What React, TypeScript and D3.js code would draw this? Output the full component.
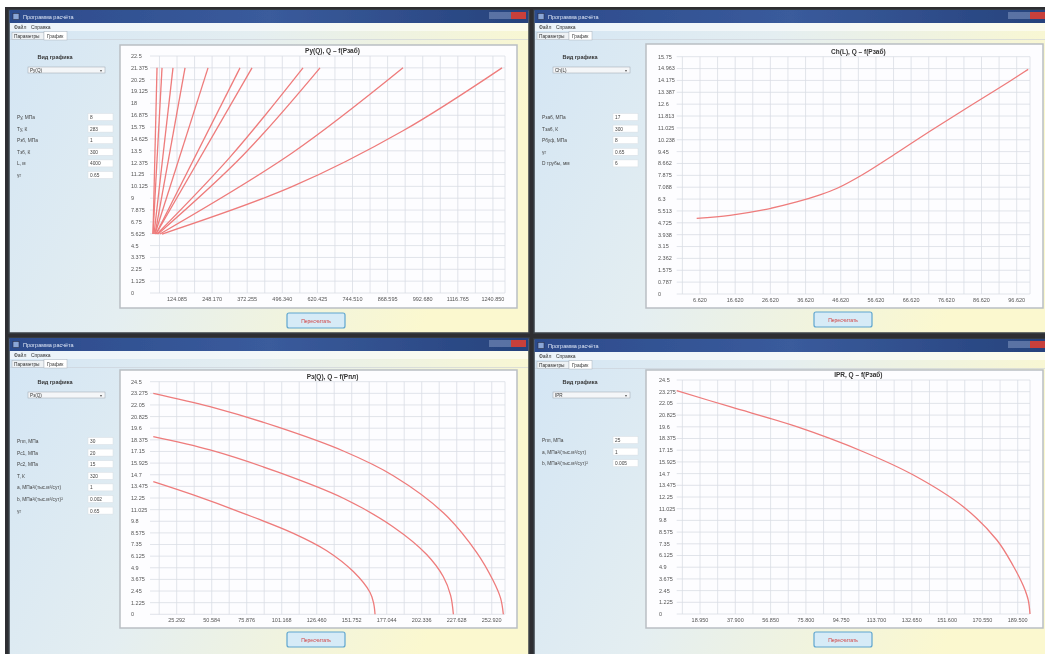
import React from "react";
import * as d3 from "d3";

const W = 1045;
const H = 654;

// ---------- data ----------
// top-left: fan of lines
const tlTitle = "Pу(Q), Q – f(Pзаб)";
const tlXDomain: [number, number] = [28.6, 1283.6];
const tlXTicks = [124.085, 248.17, 372.255, 496.34, 620.425, 744.51, 868.595, 992.68, 1116.765, 1240.85];
const tlYTicks = [0, 1.125, 2.25, 3.375, 4.5, 5.625, 6.75, 7.875, 9, 10.125, 11.25, 12.375, 13.5, 14.625, 15.75, 16.875, 18, 19.125, 20.25, 21.375, 22.5];
const tlLines: [number, number][][] = [
    [[39.2, 5.6], [53.4, 21.375]],
    [[39.2, 5.6], [71.1, 21.375]],
    [[42.8, 5.6], [109.9, 21.375]],
    [[46.3, 5.6], [152.4, 21.375]],
    [[46.3, 5.6], [233.7, 21.375]],
    [[49.8, 5.6], [346.8, 21.375]],
    [[49.8, 5.6], [389.2, 21.375]],
    [[53.4, 5.6], [311.5, 12.9], [569.5, 21.375]],
    [[56.9, 5.6], [358.5, 13.1], [629.6, 21.375]],
    [[64.0, 5.6], [529.6, 13.26], [923.0, 21.375]],
    [[71.1, 5.6], [530.6, 10.09], [923.0, 15.4], [1273.0, 21.375]],
];

// top-right: single rising curve
const trTitle = "Ch(L), Q – f(Pзаб)";
const trXDomain: [number, number] = [0, 100.4];
const trXTicks = [6.62, 16.62, 26.62, 36.62, 46.62, 56.62, 66.62, 76.62, 86.62, 96.62];
const trYTicks = [0, 0.7875, 1.575, 2.3625, 3.15, 3.9375, 4.725, 5.5125, 6.3, 7.0875, 7.875, 8.6625, 9.45, 10.2375, 11.025, 11.8125, 12.6, 13.3875, 14.175, 14.9625, 15.75];
const trCurve: [number, number][] = [
    [5.68, 5.02], [15.14, 5.22], [24.6, 5.58], [34.09, 6.11], [40.71, 6.58], [45.45, 7.0],
    [53.01, 7.95], [62.5, 9.36], [71.95, 10.8], [81.42, 12.2], [90.91, 13.57], [99.89, 14.91],
];

// bottom-left: three falling curves
const blTitle = "Pз(Q), Q – f(Pпл)";
const blXDomain: [number, number] = [6.0, 262.5];
const blXTicks = [25.292, 50.584, 75.876, 101.168, 126.46, 151.752, 177.044, 202.336, 227.628, 252.92];
const blYTicks = [0, 1.225, 2.45, 3.675, 4.9, 6.125, 7.35, 8.575, 9.8, 11.025, 12.25, 13.475, 14.7, 15.925, 17.15, 18.375, 19.6, 20.825, 22.05, 23.275, 24.5];
const blCurves: [number, number][][] = [
    [[8.38, 23.28], [49.36, 21.87], [97.56, 19.76], [145.7, 17.2], [181.8, 14.6], [217.95, 10.7], [242.1, 6.5], [254.1, 3.5], [259.3, 1.7], [261.3, 0]],
    [[8.38, 18.71], [49.36, 17.31], [97.56, 15.02], [145.7, 12.22], [181.8, 9.2], [205.9, 6.3], [217.95, 3.96], [223.2, 2.0], [225.2, 0]],
    [[8.38, 13.97], [37.29, 12.57], [73.42, 10.64], [109.6, 8.53], [133.7, 6.7], [152.9, 4.5], [165.0, 2.3], [167.6, 1.15], [168.6, 0]],
];

// bottom-right: IPR curve
const brTitle = "IPR, Q – f(Pзаб)";
const brXDomain: [number, number] = [6.44, 196.1];
const brXTicks = [18.95, 37.9, 56.85, 75.8, 94.75, 113.7, 132.65, 151.6, 170.55, 189.5];
const brYTicks = blYTicks;
const brCurve: [number, number][] = [
    [6.44, 23.38], [35.05, 21.7], [70.86, 19.61], [106.6, 16.99], [133.5, 14.55],
    [160.3, 11.23], [178.3, 7.75], [187.2, 5.0], [192.5, 2.95], [195.1, 1.5], [196.1, 0],
];

const tlParams: [string, string][] = [["Pу, МПа", "8"], ["Tу, К", "283"], ["Pзб, МПа", "1"], ["Tзб, К", "300"], ["L, м", "4000"], ["γг", "0.65"]];
const trParams: [string, string][] = [["Pзаб, МПа", "17"], ["Tзаб, К", "300"], ["Pбуф, МПа", "8"], ["γг", "0.65"], ["D трубы, мм", "6"]];
const blParams: [string, string][] = [["Pпл, МПа", "30"], ["Pс1, МПа", "20"], ["Pс2, МПа", "15"], ["T, К", "320"], ["a, МПа²/(тыс.м³/сут)", "1"], ["b, МПа²/(тыс.м³/сут)²", "0.002"], ["γг", "0.65"]];
const brParams: [string, string][] = [["Pпл, МПа", "25"], ["a, МПа²/(тыс.м³/сут)", "1"], ["b, МПа²/(тыс.м³/сут)²", "0.005"]];

const FONT = "'Liberation Sans', Arial, sans-serif";
const LINE = "#ee7b7b";

type ChartProps = {
    panel: [number, number, number, number];
    plot: [number, number, number, number];
    labelX: number;
    title: string;
    xDomain: [number, number];
    xTicks: number[];
    yTicks: number[];
    series: [number, number][][];
};

function Chart({ panel, plot, labelX, title, xDomain, xTicks, yTicks, series }: ChartProps)
{
    const [px0, py0, px1, py1] = plot;
    const x = d3.scaleLinear().domain(xDomain).range([px0, px1]);
    const y = d3.scaleLinear().domain([0, yTicks[yTicks.length - 1]]).range([py1, py0]);

    // vertical grid every half tick step
    const half = (xTicks[1] - xTicks[0]) / 2;
    let start = xTicks[0];
    while (start - half >= xDomain[0]) start -= half;
    const vGrid: number[] = [];
    for (let v = start; v <= xDomain[1]; v += half) vGrid.push(v);

    const line = d3.line<[number, number]>()
        .x((d) => x(d[0]))
        .y((d) => y(d[1]))
        .curve(d3.curveCatmullRom.alpha(0.5));

    return (
        <g>
            <rect x={panel[0]} y={panel[1]} width={panel[2] - panel[0]} height={panel[3] - panel[1]}
                fill="#fdfdff" stroke="#b9bec4" strokeWidth={1.5} />
            {yTicks.map((t, i) => (
                <line key={"h" + i} x1={px0} x2={px1} y1={y(t)} y2={y(t)} stroke="#d9dde5" strokeWidth={0.8} />
            ))}
            {vGrid.map((v, i) => (
                <line key={"v" + i} x1={x(v)} x2={x(v)} y1={py0} y2={py1} stroke="#d9dde5" strokeWidth={0.8} />
            ))}
            <line x1={px1} x2={px1} y1={py0} y2={py1} stroke="#d9dde5" strokeWidth={0.8} />
            {series.map((s, i) => (
                <path key={"s" + i} d={line(s) || ""} fill="none" stroke={LINE} strokeWidth={1.3} />
            ))}
            {yTicks.map((t, i) => (
                <text key={"yl" + i} x={labelX} y={y(t)} dy="0.35em" fontSize={5.5} fill="#555" fontFamily={FONT}>
                    {String(+t.toFixed(3))}
                </text>
            ))}
            {xTicks.map((t, i) => (
                <text key={"xl" + i} x={x(t)} y={py1 + 8} textAnchor="middle" fontSize={5.5} fill="#555" fontFamily={FONT}>
                    {t.toFixed(3)}
                </text>
            ))}
            <text x={(px0 + px1) / 2 + 5} y={py0 - 3} textAnchor="middle" fontSize={6.5} fontWeight="bold" fill="#333" fontFamily={FONT}>
                {title}
            </text>
        </g>
    );
}

type WinProps = {
    x: number; y: number; w: number; h: number;
    comboTop: number; comboText: string;
    params: [string, string][]; paramTop: number;
    button: [number, number];
    children?: React.ReactNode;
};

function AppWindow({ x, y, w, h, comboTop, comboText, params, paramTop, button, children }: WinProps)
{
    return (
        <g>
            <rect x={x} y={y} width={w} height={h} fill="url(#bg)" stroke="#3a3f46" strokeWidth={1.5} />
            <rect x={x + 0.5} y={y} width={w - 1} height={13} fill="url(#titleGrad)" />
            <rect x={x + 4} y={y + 3.5} width={6} height={6} fill="#8aa6d6" stroke="#223" strokeWidth={0.5} />
            <text x={x + 14} y={y + 9} fontSize={5.5} fill="#dfe7f7" fontFamily={FONT}>Программа расчёта</text>
            <rect x={x + w - 40} y={y + 2} width={11} height={7} fill="#6f86b4" opacity={0.7} />
            <rect x={x + w - 29} y={y + 2} width={11} height={7} fill="#6f86b4" opacity={0.7} />
            <rect x={x + w - 18} y={y + 2} width={15} height={7} fill="#c8403a" />
            <rect x={x + 1} y={y + 13} width={w - 2} height={8} fill="#ffffff" opacity={0.55} />
            <text x={x + 5} y={y + 19} fontSize={5} fill="#333" fontFamily={FONT}>Файл</text>
            <text x={x + 22} y={y + 19} fontSize={5} fill="#333" fontFamily={FONT}>Справка</text>
            <line x1={x + 1} x2={x + w - 1} y1={y + 29.5} y2={y + 29.5} stroke="#c9cfd6" strokeWidth={0.6} />
            <rect x={x + 3} y={y + 22.5} width={32} height={7} fill="#eef2f5" stroke="#aab3bd" strokeWidth={0.5} />
            <text x={x + 5} y={y + 28} fontSize={4.8} fill="#333" fontFamily={FONT}>Параметры</text>
            <rect x={x + 35} y={y + 21.5} width={23} height={8.5} fill="#ffffff" stroke="#aab3bd" strokeWidth={0.5} />
            <text x={x + 38} y={y + 27.5} fontSize={4.8} fill="#333" fontFamily={FONT}>График</text>

            <text x={x + 46} y={y + comboTop - 8} textAnchor="middle" fontSize={5.5} fontWeight="bold" fill="#333" fontFamily={FONT}>Вид графика</text>
            <rect x={x + 19} y={y + comboTop} width={77} height={6} fill="#f4f6f8" stroke="#9aa3ad" strokeWidth={0.5} />
            <text x={x + 21} y={y + comboTop + 4.6} fontSize={4.6} fill="#333" fontFamily={FONT}>{comboText}</text>
            <text x={x + 91} y={y + comboTop + 4.6} fontSize={4} fill="#555" fontFamily={FONT}>▾</text>

            {params.map((p, i) => (
                <g key={i}>
                    <text x={x + 8} y={y + paramTop + i * 11.6 + 2} fontSize={4.8} fill="#444" fontFamily={FONT}>{p[0]}</text>
                    <rect x={x + 79} y={y + paramTop + i * 11.6 - 3.5} width={25} height={7} fill="#ffffff" stroke="#d7dde3" strokeWidth={0.5} />
                    <text x={x + 81} y={y + paramTop + i * 11.6 + 2} fontSize={4.8} fill="#444" fontFamily={FONT}>{p[1]}</text>
                </g>
            ))}

            {children}

            <rect x={button[0]} y={button[1]} width={58} height={15} rx={2} fill="#d6ebf7" stroke="#5fa6cf" strokeWidth={1.2} />
            <text x={button[0] + 29} y={button[1] + 9.5} textAnchor="middle" fontSize={5} fill="#d23b3b" fontFamily={FONT}>Пересчитать</text>
        </g>
    );
}

export default function App()
{
    return (
        <div style={{ position: "absolute", left: 0, top: 0 }}>
            <svg width={W} height={H} style={{ display: "block" }}>
                <defs>
                    <linearGradient id="bg" x1="0" y1="0" x2="1" y2="0.3">
                        <stop offset="0" stopColor="#d3e5f4" />
                        <stop offset="0.45" stopColor="#e4eef1" />
                        <stop offset="1" stopColor="#fbf8cf" />
                    </linearGradient>
                    <linearGradient id="titleGrad" x1="0" y1="0" x2="1" y2="0">
                        <stop offset="0" stopColor="#2c4b8c" />
                        <stop offset="0.5" stopColor="#3a5b9c" />
                        <stop offset="1" stopColor="#26427c" />
                    </linearGradient>
                    <filter id="soft" x="0" y="0" width="1" height="1">
                        <feGaussianBlur stdDeviation="0.45" />
                    </filter>
                </defs>
                <rect x={0} y={0} width={W} height={H} fill="#ffffff" />
                <g filter="url(#soft)">
                    <rect x={5} y={7} width={W - 5} height={H - 7} fill="#2e2f31" />

                    <AppWindow x={9} y={10} w={520} h={323} comboTop={57} comboText="Pу(Q)" params={tlParams} paramTop={107} button={[287, 313]}>
                        <Chart panel={[120, 45, 517, 308]} plot={[150, 56, 505, 293]} labelX={131} title={tlTitle}
                            xDomain={tlXDomain} xTicks={tlXTicks} yTicks={tlYTicks} series={tlLines} />
                    </AppWindow>

                    <AppWindow x={534} y={10} w={514} h={323} comboTop={57} comboText="Ch(L)" params={trParams} paramTop={107} button={[814, 312]}>
                        <Chart panel={[646, 44, 1043, 308]} plot={[676.7, 56.7, 1030, 294]} labelX={658} title={trTitle}
                            xDomain={trXDomain} xTicks={trXTicks} yTicks={trYTicks} series={[trCurve]} />
                    </AppWindow>

                    <AppWindow x={9} y={338} w={520} h={318} comboTop={54} comboText="Pз(Q)" params={blParams} paramTop={103} button={[287, 632]}>
                        <Chart panel={[120, 370, 517, 628]} plot={[150, 381.7, 505, 614.3]} labelX={131} title={blTitle}
                            xDomain={blXDomain} xTicks={blXTicks} yTicks={blYTicks} series={blCurves} />
                    </AppWindow>

                    <AppWindow x={534} y={339} w={514} h={317} comboTop={53} comboText="IPR" params={brParams} paramTop={101} button={[814, 632]}>
                        <Chart panel={[646, 370, 1043, 628]} plot={[676.7, 380, 1030, 614]} labelX={659} title={brTitle}
                            xDomain={brXDomain} xTicks={brXTicks} yTicks={brYTicks} series={[brCurve]} />
                    </AppWindow>
                </g>
            </svg>
        </div>
    );
}
